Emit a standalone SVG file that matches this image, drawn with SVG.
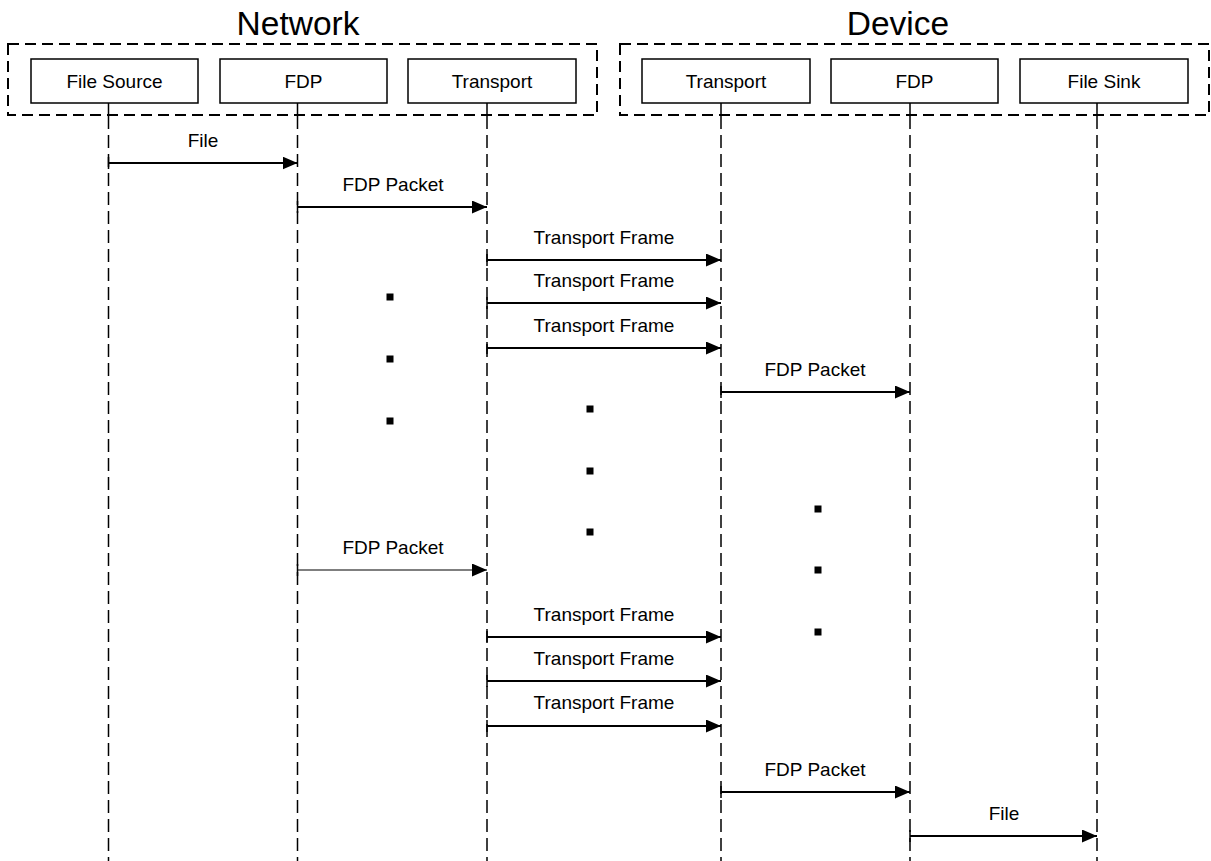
<svg xmlns="http://www.w3.org/2000/svg" width="1211" height="861" viewBox="0 0 1211 861">
<style>
text{font-family:"Liberation Sans",Arial,sans-serif;fill:#000;text-anchor:middle}
.title{font-size:33.5px}
.lbl{font-size:19px}
.grp{fill:none;stroke:#000;stroke-width:2;stroke-dasharray:11 6}
.box{fill:#fff;stroke:#000;stroke-width:1.5}
.life{stroke:#000;stroke-width:1.5;fill:none}
.dash{stroke-dasharray:13 6}
.msg{stroke:#000;stroke-width:1.8;fill:none;marker-end:url(#ah)}
.thin{stroke-width:1.2}
.tick{stroke:#000;stroke-width:1.5}
.dot{fill:#000}
</style>
<defs>
<marker id="ah" markerUnits="userSpaceOnUse" markerWidth="16" markerHeight="14" refX="15" refY="6.5" orient="auto">
<path d="M0,0 L15,6.5 L0,13 Z" fill="#000"/>
</marker>
</defs>
<rect width="1211" height="861" fill="#fff"/>
<g id="network">
<text class="title" x="298" y="35">Network</text>
<rect class="grp" x="8" y="44" width="589" height="71"/>
</g>
<g id="device">
<text class="title" x="898" y="35">Device</text>
<rect class="grp" x="620" y="44" width="589" height="71"/>
</g>
<g id="lifelines">
<path class="life" d="M108.5,103V116M297.5,103V116M487,103V116M721,103V116M910,103V116M1097,103V116"/>
<path class="life dash" d="M108.5,116V861M297.5,116V861M487,116V861M721,116V861M910,116V861M1097,116V861"/>
</g>
<g id="file-source"><rect class="box" x="31" y="59" width="167" height="44"/><text class="lbl" x="114.5" y="88">File Source</text></g>
<g id="fdp-net"><rect class="box" x="220" y="59" width="167" height="44"/><text class="lbl" x="303.5" y="88">FDP</text></g>
<g id="transport-net"><rect class="box" x="408" y="59" width="168" height="44"/><text class="lbl" x="492" y="88">Transport</text></g>
<g id="transport-dev"><rect class="box" x="642" y="59" width="168" height="44"/><text class="lbl" x="726" y="88">Transport</text></g>
<g id="fdp-dev"><rect class="box" x="831" y="59" width="167" height="44"/><text class="lbl" x="914.5" y="88">FDP</text></g>
<g id="file-sink"><rect class="box" x="1020" y="59" width="168" height="44"/><text class="lbl" x="1104" y="88">File Sink</text></g>
<g id="connectors">
<path class="msg" d="M108.5,163H297.5"/>
<path class="msg" d="M297.5,207H487"/>
<path class="msg" d="M487,260H721"/>
<path class="msg" d="M487,303H721"/>
<path class="msg" d="M487,348H721"/>
<path class="msg" d="M721,392H910"/>
<path class="msg thin" d="M297.5,570H487"/>
<path class="msg" d="M487,637H721"/>
<path class="msg" d="M487,681H721"/>
<path class="msg" d="M487,726H721"/>
<path class="msg" d="M721,792H910"/>
<path class="msg" d="M910,836H1097"/>
<path class="tick" d="M108.5,157V169M297.5,201V213M487,254V266M487,297V309M487,342V354M721,386V398M297.5,564V576M487,631V643M487,675V687M487,720V732M721,786V798M910,830V842"/>
<text class="lbl" x="203" y="147">File</text>
<text class="lbl" x="393" y="191">FDP Packet</text>
<text class="lbl" x="604" y="244">Transport Frame</text>
<text class="lbl" x="604" y="287">Transport Frame</text>
<text class="lbl" x="604" y="332">Transport Frame</text>
<text class="lbl" x="815" y="376">FDP Packet</text>
<text class="lbl" x="393" y="554">FDP Packet</text>
<text class="lbl" x="604" y="621">Transport Frame</text>
<text class="lbl" x="604" y="665">Transport Frame</text>
<text class="lbl" x="604" y="709">Transport Frame</text>
<text class="lbl" x="815" y="776">FDP Packet</text>
<text class="lbl" x="1004" y="820">File</text>
</g>
<g id="ellipses">
<rect class="dot" x="386.5" y="293.5" width="7" height="7"/>
<rect class="dot" x="386.5" y="355.5" width="7" height="7"/>
<rect class="dot" x="386.5" y="417.5" width="7" height="7"/>
<rect class="dot" x="586.5" y="405.5" width="7" height="7"/>
<rect class="dot" x="586.5" y="467.5" width="7" height="7"/>
<rect class="dot" x="586.5" y="528.5" width="7" height="7"/>
<rect class="dot" x="814.5" y="505.5" width="7" height="7"/>
<rect class="dot" x="814.5" y="566.5" width="7" height="7"/>
<rect class="dot" x="814.5" y="628.5" width="7" height="7"/>
</g>
</svg>
